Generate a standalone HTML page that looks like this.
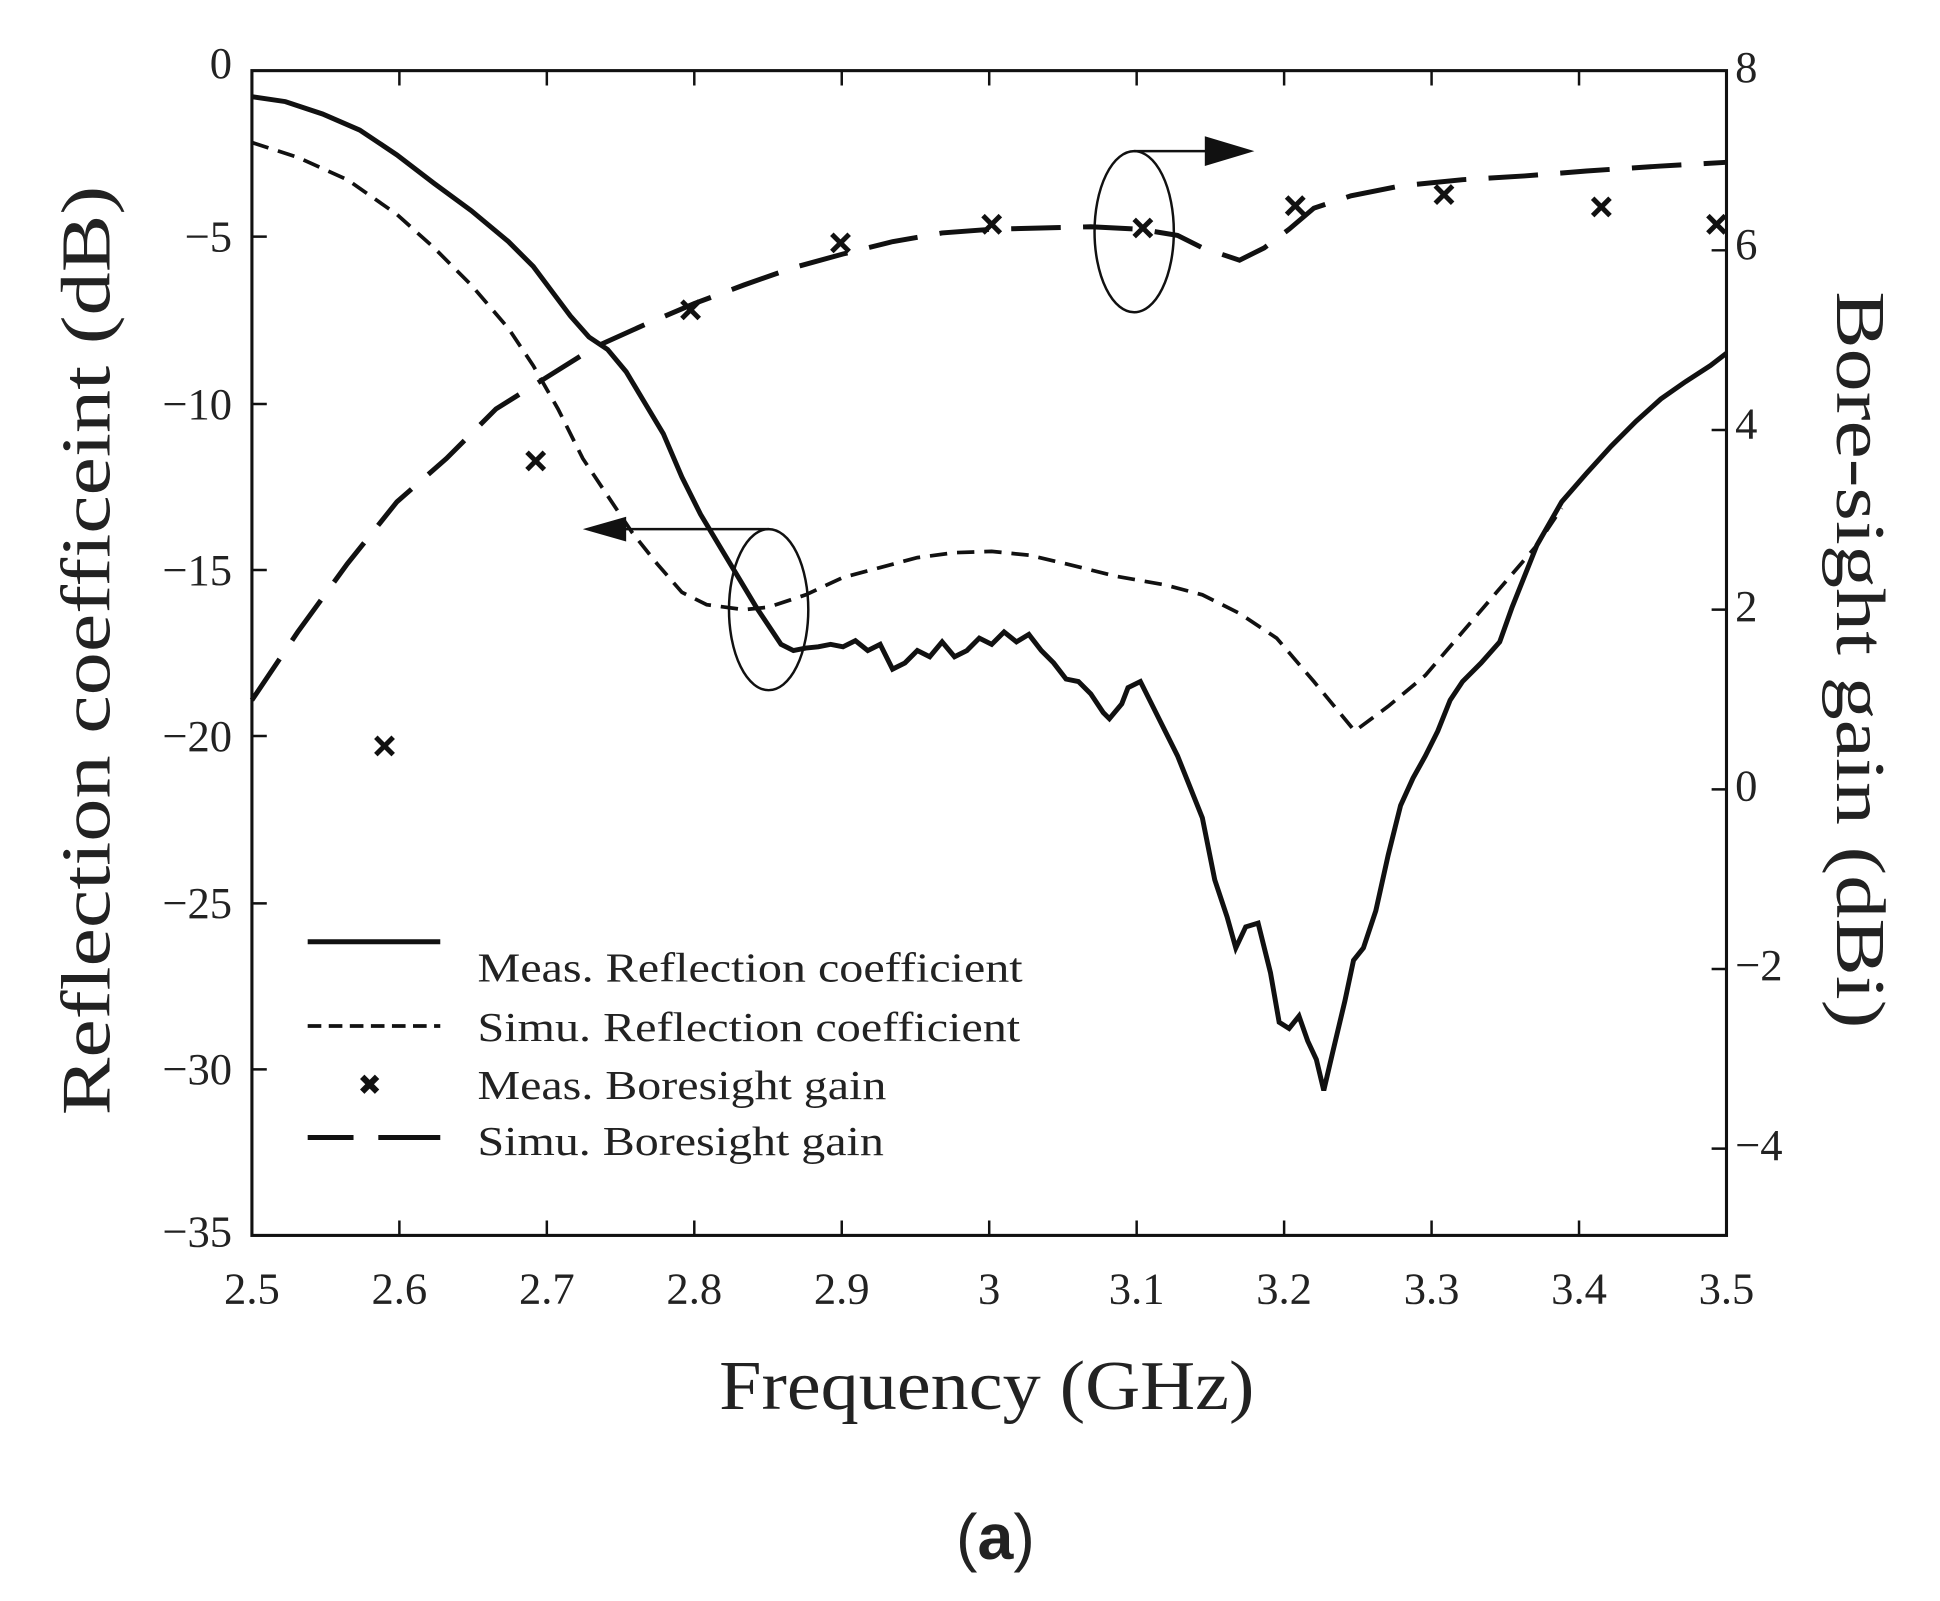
<!DOCTYPE html>
<html><head><style>html,body{margin:0;padding:0;background:#fff}</style></head><body>
<svg width="1940" height="1596" viewBox="0 0 1565 1288" xmlns="http://www.w3.org/2000/svg" font-family="Liberation Serif, serif" fill="#222">
<rect x="203" y="57" width="1190" height="940" fill="none" stroke="#111" stroke-width="2.5"/>
<g stroke="#111" stroke-width="2">
<path d="M322,997v-12M441,997v-12M560,997v-12M679,997v-12M798,997v-12M917,997v-12M1036,997v-12M1155,997v-12M1274,997v-12"/>
<path d="M322,57v12M441,57v12M560,57v12M679,57v12M798,57v12M917,57v12M1036,57v12M1155,57v12M1274,57v12"/>
<path d="M203,191h12M203,326h12M203,460h12M203,594h12M203,729h12M203,863h12"/>
<path d="M1393,202h-12M1393,347h-12M1393,492h-12M1393,637h-12M1393,782h-12M1393,927h-12"/>
</g>
<g font-size="36" text-anchor="end">
<text x="187" y="63">0</text><text x="187" y="203">−5</text><text x="187" y="338">−10</text><text x="187" y="472">−15</text><text x="187" y="606">−20</text><text x="187" y="741">−25</text><text x="187" y="875">−30</text><text x="187" y="1006">−35</text>
</g>
<g font-size="36" text-anchor="start">
<text x="1400" y="66">8</text><text x="1400" y="209">6</text><text x="1400" y="354">4</text><text x="1400" y="501">2</text><text x="1400" y="646">0</text><text x="1400" y="791">−2</text><text x="1400" y="936">−4</text>
</g>
<g font-size="36" text-anchor="middle">
<text x="203" y="1052">2.5</text><text x="322" y="1052">2.6</text><text x="441" y="1052">2.7</text><text x="560" y="1052">2.8</text><text x="679" y="1052">2.9</text><text x="798" y="1052">3</text><text x="917" y="1052">3.1</text><text x="1036" y="1052">3.2</text><text x="1155" y="1052">3.3</text><text x="1274" y="1052">3.4</text><text x="1393" y="1052">3.5</text>
</g>
<text x="580" y="1137" font-size="56" textLength="432" lengthAdjust="spacingAndGlyphs">Frequency (GHz)</text>
<text transform="translate(88,900) rotate(-90)" font-size="56" textLength="750" lengthAdjust="spacingAndGlyphs">Reflection coefficeint (dB)</text>
<text transform="translate(1482,235) rotate(90)" font-size="56" textLength="595" lengthAdjust="spacingAndGlyphs">Bore-sight gain (dBi)</text>
<text x="803" y="1258" font-size="52" font-family="Liberation Sans, sans-serif" text-anchor="middle">(<tspan font-weight="bold">a</tspan>)</text>
<g fill="none" stroke="#111">
<polyline stroke-width="4" points="203,78 230,82 260,92 290,105 320,125 350,148 380,170 410,195 430,215 445,235 460,255 475,272 490,282 505,300 520,325 535,350 550,385 565,415 580,440 595,465 610,490 620,505 630,520 640,525 650,523 660,522 670,520 680,522 690,517 700,525 710,520 720,540 730,535 740,525 750,530 760,518 770,530 780,525 790,515 800,520 810,510 820,518 830,512 840,525 850,535 860,548 870,550 880,560 890,575 895,580 905,568 910,555 920,550 930,570 940,590 950,610 960,635 970,660 980,710 990,740 997,765 1005,748 1015,745 1025,785 1032,825 1040,830 1048,820 1055,840 1062,855 1068,880 1075,850 1085,808 1092,775 1100,765 1110,735 1120,690 1130,650 1140,628 1150,610 1160,590 1170,565 1180,550 1195,535 1210,518 1220,490 1240,440 1260,405 1280,382 1300,360 1320,340 1340,322 1360,308 1380,295 1393,285"/>
<polyline stroke-width="3" stroke-dasharray="14,8" points="203,115 240,127 280,145 320,173 350,200 380,230 410,265 430,295 450,330 470,370 490,400 510,430 530,455 550,478 570,488 600,492 620,490 650,480 680,466 710,458 740,450 770,446 800,445 830,448 860,455 900,465 940,472 970,480 1000,495 1030,515 1060,550 1093,590 1120,570 1150,545 1180,510 1210,475 1240,440 1260,410"/>
<polyline stroke-width="4" stroke-dasharray="40,18" points="203,565 240,510 280,455 320,405 360,370 400,330 440,305 480,280 520,262 560,245 600,230 640,216 680,205 720,195 760,188 800,185 840,184 880,183 920,185 950,190 970,200 1000,210 1020,200 1040,185 1060,168 1090,158 1130,150 1180,145 1230,142 1280,138 1340,134 1393,131"/>
<g stroke-width="2">
<ellipse cx="620" cy="492" rx="32" ry="65"/>
<path d="M620,427H500"/>
<ellipse cx="915" cy="187" rx="32" ry="65"/>
<path d="M915,122H975"/>
</g>
<g stroke-width="4">
<path d="M303,595l14,14M317,595l-14,14 M425,365l14,14M439,365l-14,14 M550,243l14,14M564,243l-14,14 M671,189l14,14M685,189l-14,14 M793,174l14,14M807,174l-14,14 M915,177l14,14M929,177l-14,14 M1038,159l14,14M1052,159l-14,14 M1158,150l14,14M1172,150l-14,14 M1285,160l14,14M1299,160l-14,14 M1378,174l14,14M1392,174l-14,14"/>
</g>
<path stroke-width="4" d="M248,760H355"/>
<path stroke-width="3" stroke-dasharray="11,6" d="M248,828H355"/>
<path stroke-width="5" d="M292,869l12,12M304,869l-12,12"/>
<path stroke-width="4" d="M248,918H285M305,918H355"/>
</g>
<path d="M470,427L505,417L505,437Z" fill="#111"/>
<path d="M1012,122L972,110L972,134Z" fill="#111"/>
<g font-size="33">
<text x="385" y="792" textLength="440" lengthAdjust="spacingAndGlyphs">Meas. Reflection coefficient</text>
<text x="385" y="840" textLength="438" lengthAdjust="spacingAndGlyphs">Simu. Reflection coefficient</text>
<text x="385" y="887" textLength="330" lengthAdjust="spacingAndGlyphs">Meas. Boresight gain</text>
<text x="385" y="932" textLength="328" lengthAdjust="spacingAndGlyphs">Simu. Boresight gain</text>
</g>
</svg>
</body></html>
